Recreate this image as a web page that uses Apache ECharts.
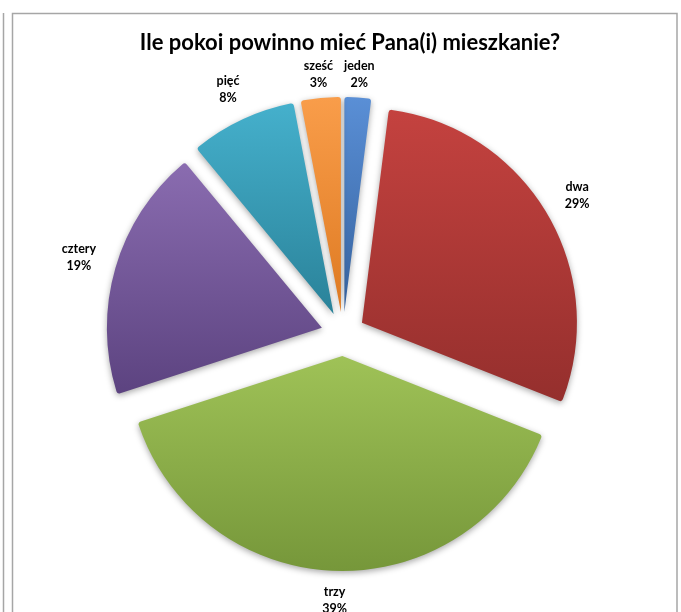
<!DOCTYPE html>
<html>
<head>
<meta charset="utf-8">
<style>
  html, body { margin: 0; padding: 0; background: #fff; }
  #chart { width: 681px; height: 612px; }
</style>
<script src="https://cdn.jsdelivr.net/npm/echarts@6/dist/echarts.min.js"></script>
</head>
<body>
<div id="chart"></div>
<script>
// Survey answers: number of rooms, share of respondents in percent
const titleText = 'Ile pokoi powinno mieć Pana(i) mieszkanie?';
const categories = ['jeden', 'dwa', 'trzy', 'cztery', 'pięć', 'sześć'];
const values = [2, 29, 39, 19, 8, 3];

// Office-style palette: [top, bottom] gradient stops per slice
const sliceColors = [
  ['#5a8fd6', '#35629e'],
  ['#c4423f', '#952f2d'],
  ['#9fc257', '#76973a'],
  ['#8a6cb0', '#5c4380'],
  ['#45b0cc', '#2a8299'],
  ['#f99d4a', '#de7a22']
];
// distance of each label from the slice edge
const labelGap = [23, 35, 30, 38, 33, 24];

const chart = echarts.init(document.getElementById('chart'), null, { renderer: 'canvas' });

const data = categories.map((name, i) => ({
  name: name,
  value: values[i],
  selected: true,
  itemStyle: {
    color: new echarts.graphic.LinearGradient(0, 0, 0, 1, [
      { offset: 0, color: sliceColors[i][0] },
      { offset: 1, color: sliceColors[i][1] }
    ])
  },
  labelLine: { show: false, length: labelGap[i], length2: 0 }
}));

chart.setOption({
  animation: false,
  backgroundColor: '#ffffff',
  title: {
    text: titleText,
    left: 345,
    top: 27,
    textAlign: 'center',
    textStyle: {
      fontFamily: 'Lato',
      fontWeight: 'bold',
      fontSize: 22,
      color: '#000'
    }
  },
  graphic: [
    {
      type: 'line',
      shape: { x1: 3.5, y1: 13, x2: 3.5, y2: 612 },
      style: { stroke: '#a6a6a6', lineWidth: 1.5 }
    },
    {
      type: 'rect',
      shape: { x: 12.5, y: 13.5, width: 664.5, height: 640 },
      style: { fill: null, stroke: '#a6a6a6', lineWidth: 1.5 }
    }
  ],
  series: [{
    type: 'pie',
    center: [343, 334],
    radius: [0, 215],
    startAngle: 90,
    clockwise: true,
    selectedMode: 'multiple',
    selectedOffset: 22,
    avoidLabelOverlap: false,
    itemStyle: {
      borderRadius: 3,
      shadowBlur: 6,
      shadowOffsetY: 2,
      shadowColor: 'rgba(0,0,0,0.35)'
    },
    emphasis: { disabled: true },
    label: {
      show: true,
      position: 'outside',
      formatter: '{b}\n{c}%',
      fontFamily: 'Lato',
      fontWeight: 'bold',
      fontSize: 12.5,
      lineHeight: 17,
      color: '#000',
      distanceToLabelLine: 0
    },
    labelLayout: function () {
      return { align: 'center' };
    },
    data: data
  }]
});
</script>
</body>
</html>
